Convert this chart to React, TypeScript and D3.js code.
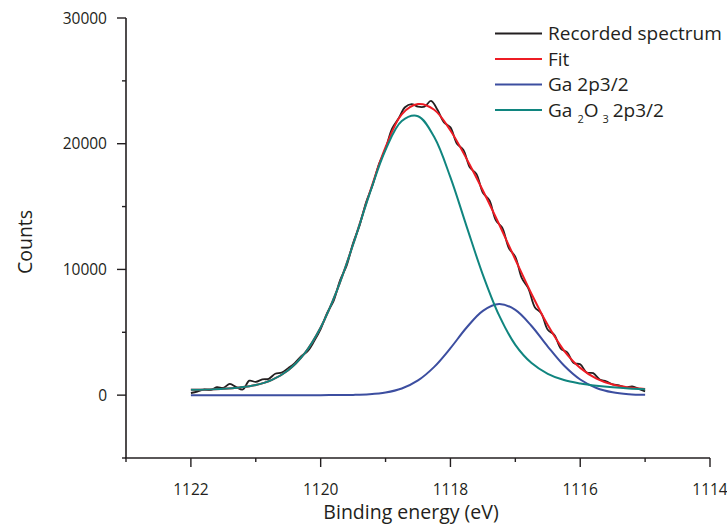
import React from "react";
import * as d3 from "d3";

// Binding energy grid for the fitted components (eV)
const gridEnergy = [
  1122, 1121.75, 1121.5, 1121.25, 1121, 1120.75, 1120.5, 1120.25, 1120, 1119.75,
  1119.5, 1119.25, 1119, 1118.75, 1118.5, 1118.25, 1118, 1117.75, 1117.5, 1117.25,
  1117, 1116.75, 1116.5, 1116.25, 1116, 1115.75, 1115.5, 1115.25, 1115,
];
const fitCounts = [
  420, 450, 500, 610, 810, 1220, 1980, 3300, 5380, 8315,
  12000, 16020, 19720, 22340, 23150, 22700, 21055, 18790, 16280, 13590,
  10790, 8050, 5570, 3550, 2170, 1320, 840, 610, 490,
];
const ga2p32Counts = [
  0, 0, 0, 0, 0, 0, 0, 0, 0, 5,
  21, 70, 207, 529, 1171, 2248, 3735, 5379, 6708, 7250,
  6786, 5503, 3866, 2353, 1241, 567, 224, 77, 23,
];
const ga2o3Counts = [
  420, 450, 500, 610, 810, 1220, 1980, 3300, 5380, 8310,
  11980, 15950, 19510, 21810, 22190, 20530, 17320, 13410, 9570, 6340,
  4000, 2550, 1700, 1200, 930, 750, 620, 530, 470,
];

// Recorded spectrum (0.1 eV steps from 1122.0 to 1115.0)
const recordedEnergy = d3.range(71).map((i) => +(1122 - i * 0.1).toFixed(1));
const recordedCounts = [
  170, 280, 445, 400, 630, 580, 890, 635, 450, 1150,
  1050, 1250, 1300, 1700, 1800, 2150, 2550, 3100, 3500, 4300,
  5250, 6550, 7500, 9150, 10300, 12100, 13500, 15350, 16700, 18400,
  19600, 21200, 22000, 22900, 23150, 22950, 22950, 23400, 22700, 21700,
  21300, 20000, 19500, 18100, 17600, 16100, 15500, 13900, 13300, 11700,
  11000, 9300, 8500, 7000, 6500, 5200, 4800, 3700, 3400, 2550,
  2450, 1800, 1750, 1250, 1100, 850, 780, 600, 700, 500,
  300,
];

const xMajorTicks = [1122, 1120, 1118, 1116, 1114];
const xMinorTicks = [1123, 1121, 1119, 1117, 1115];
const yMajorTicks = [0, 10000, 20000, 30000];
const yMinorTicks = [-5000, 5000, 15000, 25000];

const legendItems = [
  { key: "rec", label: "Recorded spectrum", color: "#231f20" },
  { key: "fit", label: "Fit", color: "#ed1c24" },
  { key: "ga", label: "Ga 2p3/2", color: "#3c4ea0" },
  { key: "gao", label: "Ga2O3", color: "#10857f" },
];

const FONT = "'Open Sans', 'Noto Sans', sans-serif";
const AXIS = "#231f20";

export default function App() {
  const x = d3.scaleLinear().domain([1123, 1114]).range([126, 710]);
  const y = d3.scaleLinear().domain([-5000, 30000]).range([458, 18]);

  const line = d3
    .line<[number, number]>()
    .x((d) => x(d[0]))
    .y((d) => y(d[1]))
    .curve(d3.curveCatmullRom.alpha(0.5));

  const zip = (xs: number[], ys: number[]) =>
    xs.map((v, i) => [v, ys[i]] as [number, number]);

  const [x0, x1] = x.range();
  const [yb, yt] = y.range();

  return (
    <svg
      width={727}
      height={527}
      style={{ position: "absolute", left: 0, top: 0, background: "#fff" }}
      fontFamily={FONT}
    >
      <rect width={727} height={527} fill="#fff" />
      {/* curves */}
      <path d={line(zip(recordedEnergy, recordedCounts)) || ""} fill="none" stroke="#231f20" strokeWidth={1.8} />
      <path d={line(zip(gridEnergy, fitCounts)) || ""} fill="none" stroke="#ed1c24" strokeWidth={2} />
      <path d={line(zip(gridEnergy, ga2p32Counts)) || ""} fill="none" stroke="#3c4ea0" strokeWidth={2} />
      <path d={line(zip(gridEnergy, ga2o3Counts)) || ""} fill="none" stroke="#10857f" strokeWidth={2} />

      {/* axes */}
      <line x1={x0} x2={x0} y1={yt} y2={yb} stroke={AXIS} strokeWidth={1.6} />
      <line x1={x0 - 1} x2={x1} y1={yb} y2={yb} stroke={AXIS} strokeWidth={1.6} />
      {yMajorTicks.map((t) => (
        <g key={"ym" + t}>
          <line x1={x0 - 9} x2={x0} y1={y(t)} y2={y(t)} stroke={AXIS} strokeWidth={1.4} />
          <text x={x0 - 19} y={y(t)} dy="0.36em" textAnchor="end" fontSize={15.5} fill="#231f20">
            {t}
          </text>
        </g>
      ))}
      {yMinorTicks.map((t) => (
        <line key={"yn" + t} x1={x0 - 4} x2={x0} y1={y(t)} y2={y(t)} stroke={AXIS} strokeWidth={1.4} />
      ))}
      {xMajorTicks.map((t) => (
        <g key={"xm" + t}>
          <line x1={x(t)} x2={x(t)} y1={yb} y2={yb + 9} stroke={AXIS} strokeWidth={1.4} />
          <text x={x(t)} y={yb + 37} textAnchor="middle" fontSize={15.5} fill="#231f20">
            {t}
          </text>
        </g>
      ))}
      {xMinorTicks.map((t) => (
        <line key={"xn" + t} x1={x(t)} x2={x(t)} y1={yb} y2={yb + 4} stroke={AXIS} strokeWidth={1.4} />
      ))}

      {/* axis titles */}
      <text x={411} y={519} textAnchor="middle" fontSize={19.5} fill="#231f20">
        Binding energy (eV)
      </text>
      <text
        transform={`translate(32, ${(yt + yb) / 2 + 4}) rotate(-90)`}
        textAnchor="middle"
        fontSize={19.5}
        fill="#231f20"
      >
        Counts
      </text>

      {/* legend */}
      {legendItems.map((it, i) => {
        const ly = 33.5 + i * 25.5;
        return (
          <g key={it.key}>
            <line x1={495} x2={542} y1={ly} y2={ly} stroke={it.color} strokeWidth={2} />
            {it.key === "gao" ? (
              <text x={548} y={ly} dy="0.36em" fontSize={19} fill="#231f20">
                Ga
                <tspan fontSize={11} dx={5} dy={6}>2</tspan>
                <tspan dy={-6}>O</tspan>
                <tspan fontSize={11} dx={4} dy={6}>3</tspan>
                <tspan dx={4} dy={-6}>2p3/2</tspan>
              </text>
            ) : (
              <text x={548} y={ly} dy="0.36em" fontSize={19} fill="#231f20">
                {it.label}
              </text>
            )}
          </g>
        );
      })}
    </svg>
  );
}
